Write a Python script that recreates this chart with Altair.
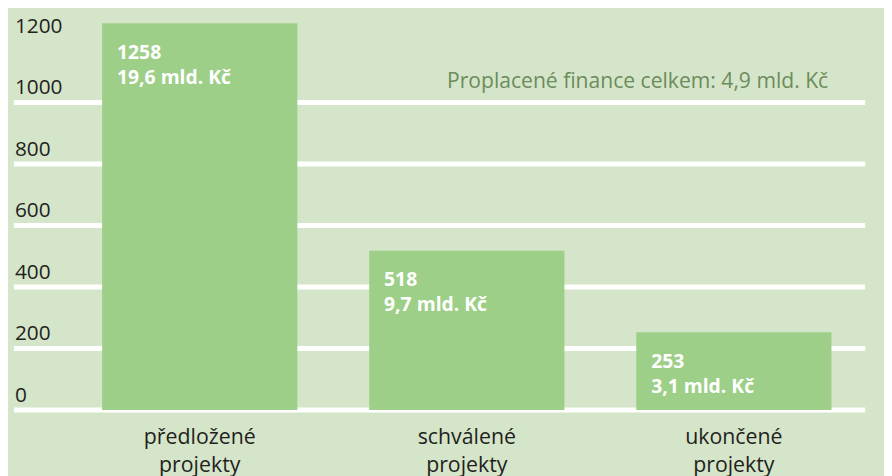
import altair as alt
import pandas as pd

# ---- data ----
categories = ["předložené\nprojekty", "schválené\nprojekty", "ukončené\nprojekty"]
counts = [1258, 518, 253]
finance = ["19,6 mld. Kč", "9,7 mld. Kč", "3,1 mld. Kč"]
grid_values = [0, 200, 400, 600, 800, 1000]
tick_labels = [0, 200, 400, 600, 800, 1000, 1200]
note_text = ["Proplacené finance celkem: 4,9 mld. Kč"]

BG = "#d5e5c9"
BAR = "#9ecf88"
TXT = "#231f20"
NOTE = "#6c8c5c"
FONT = "Open Sans"

bars_df = pd.DataFrame({
    "cat": categories,
    "count": counts,
    "label": [f"{c}\n{f}" for c, f in zip(counts, finance)],
})
grid_df = pd.DataFrame({"v": grid_values})
ticks_df = pd.DataFrame({"v": tick_labels, "t": [str(t) for t in tick_labels]})
note_df = pd.DataFrame({"t": note_text})

yscale = alt.Scale(domain=[0, 1000], range=[403.5, 93.3], zero=True, nice=False)
xscale = alt.Scale(domain=categories, range=[58.75, 867.25],
                   paddingInner=0.269, paddingOuter=0.1345)

grid = alt.Chart(grid_df).mark_rule(color="white", strokeWidth=5).encode(
    y=alt.Y("v:Q", scale=yscale, axis=None),
    x=alt.value(6), x2=alt.value(865),
)

ylabels = alt.Chart(ticks_df).mark_text(
    align="left", baseline="alphabetic", dy=-8.5, font=FONT, fontSize=21, color=TXT
).encode(
    y=alt.Y("v:Q", scale=yscale, axis=None),
    x=alt.value(7),
    text="t:N",
)

bars = alt.Chart(bars_df).mark_bar(color=BAR, width=197).encode(
    x=alt.X("cat:N", scale=xscale, axis=None, sort=categories),
    y=alt.Y("count:Q", scale=yscale, axis=None),
    y2=alt.datum(0),
)

bar_text = alt.Chart(bars_df).mark_text(
    align="left", baseline="alphabetic", dx=-83.5, dy=36, lineBreak="\n", lineHeight=25,
    font=FONT, fontSize=19.5, fontWeight="bold", color="white"
).encode(
    x=alt.X("cat:N", scale=xscale, axis=None, sort=categories),
    y=alt.Y("count:Q", scale=yscale, axis=None),
    text="label:N",
)

cat_text = alt.Chart(bars_df).mark_text(
    align="center", baseline="alphabetic", lineBreak="\n", lineHeight=28,
    font=FONT, fontSize=21.5, color=TXT
).encode(
    x=alt.X("cat:N", scale=xscale, axis=None, sort=categories),
    y=alt.value(438),
    text="cat:N",
)

note = alt.Chart(note_df).mark_text(
    align="left", baseline="alphabetic", font=FONT, fontSize=21.3, color=NOTE
).encode(
    x=alt.value(443),
    y=alt.value(78.7),
    text="t:N",
)

chart = alt.layer(grid, bars, ylabels, bar_text, cat_text, note).properties(
    width=884, height=468, background=BG, padding=0,
    autosize=alt.AutoSizeParams(type="none"),
).configure_view(stroke=None)

chart.save("out.html", embed_options={"renderer": "svg", "actions": False})
